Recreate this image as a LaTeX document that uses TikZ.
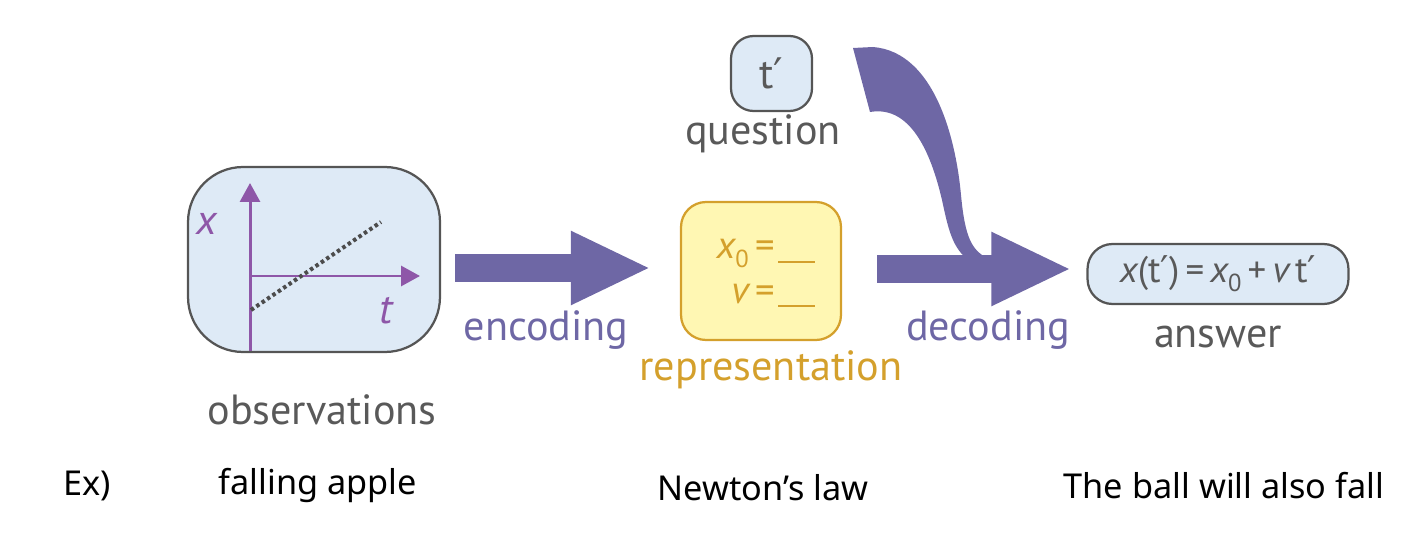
\documentclass[tikz,border=0pt]{standalone}
\usepackage{fontspec}
\setmainfont{PT Sans}
\newfontfamily\exfont{Noto Sans}
\newfontfamily\primefont{DejaVu Sans}
\newcommand{\prm}{{\primefont ′}}
\usetikzlibrary{arrows.meta,calc}
\definecolor{boxblue}{HTML}{DEEAF6}
\definecolor{boxline}{HTML}{555555}
\definecolor{arrowpurple}{HTML}{6E67A5}
\definecolor{axispurple}{HTML}{8E57A8}
\definecolor{txtgray}{HTML}{595959}
\definecolor{gold}{HTML}{D4A02C}
\definecolor{goldfill}{HTML}{FFF7B3}
\tikzset{
  bluebox/.style={draw=boxline, line width=0.045cm, fill=boxblue, inner sep=0pt},
  repbox/.style={draw=gold, line width=0.045cm, fill=goldfill, inner sep=0pt},
  bigarr/.style={draw=arrowpurple, line width=0.56cm, line cap=butt,
    -{Triangle[length=1.6cm,width=1.36cm]}},
  axisline/.style={draw=axispurple, line width=0.06cm, -{Triangle[length=0.38cm,width=0.4cm]}},
  lbl/.style={font=\fontsize{24}{28}\selectfont, text=txtgray, inner sep=0pt},
  plbl/.style={font=\fontsize{24}{28}\selectfont, text=arrowpurple, inner sep=0pt},
  glbl/.style={font=\fontsize{24}{28}\selectfont, text=gold, inner sep=0pt},
  exlbl/.style={font=\exfont\fontsize{19.5}{23}\selectfont, text=black, inner sep=0pt},
}
\begin{document}
\begin{tikzpicture}[x=0.02cm, y=-0.02cm]
\useasboundingbox (0,0) rectangle (1423,557);
% observations box
\node[bluebox, minimum width=5.04cm, minimum height=3.7cm, rounded corners=1.1cm] (obs) at (314,259.5) {};
\draw[axisline] (250,351) -- (250,183);
\draw[axisline] (250,276) -- (420,276);
\draw[draw=boxline!90!black, line width=0.08cm, dash pattern=on 0.07cm off 0.06cm] (251,310) -- (381,222);
\node[plbl, font=\fontsize{24}{28}\selectfont\itshape, text=axispurple] (xl) at (207,224) {x};
\node[plbl, font=\fontsize{24}{28}\selectfont\itshape, text=axispurple] (tl) at (386,311) {t};
\node[lbl] (obsl) at (322,410) {observations};
% representation box
\node[repbox, minimum width=3.2cm, minimum height=2.76cm, rounded corners=0.5cm] (rep) at (761,271) {};
\node[glbl, font=\fontsize{22}{26}\selectfont, anchor=base east] (eq1) at (775,258) {\itshape x\upshape\raisebox{-0.5ex}{\fontsize{14}{16}\selectfont 0}\,=};
\node[glbl, font=\fontsize{22}{26}\selectfont, anchor=base east] (eq2) at (775,303) {\itshape v\upshape\,=};
\draw[gold, line width=0.045cm] (778,262) -- (815,262);
\draw[gold, line width=0.045cm] (778,306) -- (815,306);
\node[glbl] (repl) at (771,370) {representation};
% question box
\node[bluebox, minimum width=1.62cm, minimum height=1.5cm, rounded corners=0.45cm,
  font=\fontsize{24}{28}\selectfont, text=txtgray] (q) at (771.5,73.5) {t\prm};
\node[lbl] (ql) at (763,134) {question};
% answer box
\node[bluebox, minimum width=5.22cm, minimum height=1.2cm, rounded corners=0.5cm,
  font=\fontsize{21}{25}\selectfont, text=txtgray] (ans) at (1218,274)
  {\itshape x\upshape(t\prm)\,=\,\itshape x\upshape\raisebox{-0.5ex}{\fontsize{14}{16}\selectfont 0}\,+\,\itshape v\upshape\,t\prm};
\node[lbl] (ansl) at (1218,337) {answer};
% arrows
\draw[bigarr, shorten <=0.28cm, shorten >=0.58cm] (obs.east |- 0,268) -- (rep.west |- 0,268);
\node[plbl] (encl) at (546,330) {encoding};
\draw[bigarr, shorten <=0.7cm, shorten >=0.3cm] (rep.east |- 0,269) -- (ans.west |- 0,269);
\node[plbl] (decl) at (988,330) {decoding};
% curved band from question into decoding
\fill[arrowpurple] (853,48) -- (873,47)
  .. controls (935,52) and (956,140) .. (961,195)
  .. controls (965,238) and (972,250) .. (987,258)
  -- (966,258)
  .. controls (952,246) and (948,228) .. (942,200)
  .. controls (928,140) and (905,106) .. (870,112) -- cycle;
% examples
\node[exlbl] (ex) at (87,486) {Ex)};
\node[exlbl] (ex1) at (318,486) {falling apple};
\node[exlbl] (ex2) at (763,488) {Newton’s law};
\node[exlbl] (ex3) at (1224,486) {The ball will also fall};
\end{tikzpicture}
\end{document}
